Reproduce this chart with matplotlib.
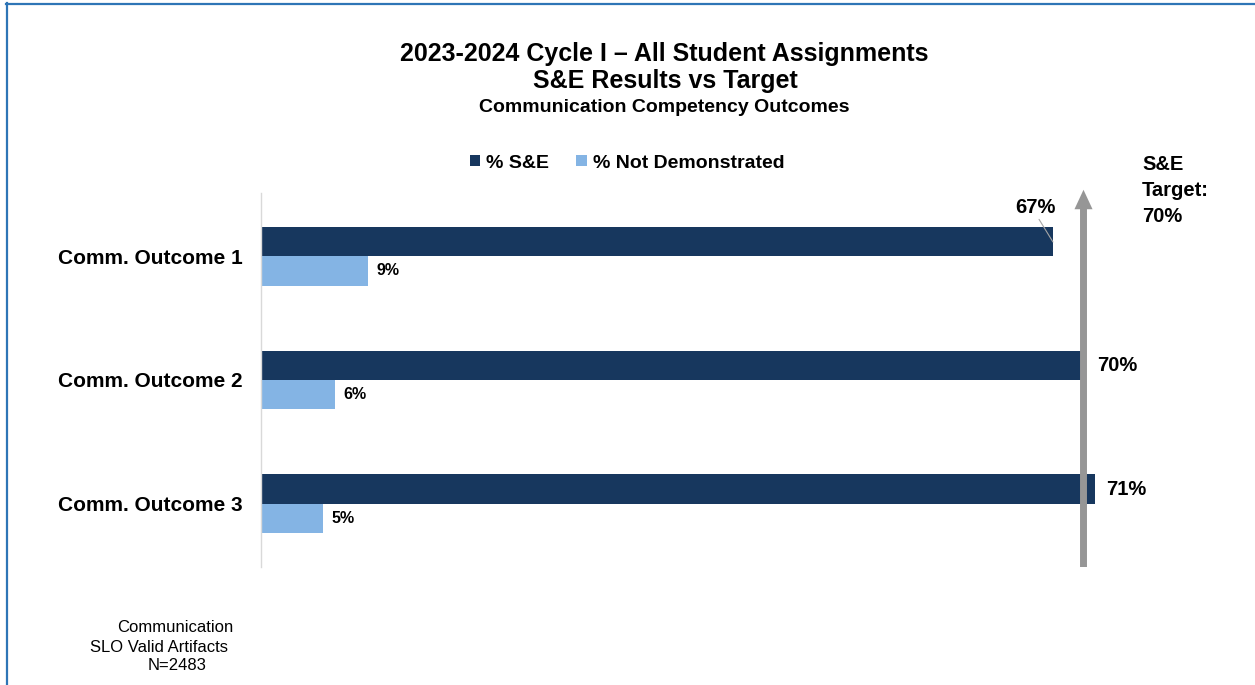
import matplotlib
matplotlib.use("Agg")
import matplotlib.pyplot as plt
from matplotlib.lines import Line2D
from matplotlib.patches import Patch

plt.rcParams['font.family'] = ['Liberation Sans', 'DejaVu Sans']

# ---- data ----
categories = ["Comm. Outcome 1", "Comm. Outcome 2", "Comm. Outcome 3"]
se_values = [67.4, 69.9, 71.0]
nd_values = [9.1, 6.3, 5.3]
se_labels = ["67%", "70%", "71%"]
nd_labels = ["9%", "6%", "5%"]
target = 70
series_names = ["% S&E", "% Not Demonstrated"]
title_lines = ["2023-2024 Cycle I \u2013 All Student Assignments", "S&E Results vs Target",
               "Communication Competency Outcomes"]
target_text = ["S&E", "Target:", "70%"]
note_lines = ["Communication", "SLO Valid Artifacts", "N=2483"]

DARK = "#17375E"
LIGHT = "#84B4E4"
GRAY = "#969696"

W, H = 1255, 685
fig = plt.figure(figsize=(W / 100, H / 100), dpi=100)


def fx(px):
    return px / W


def fy(py):
    return 1 - py / H


# axes placement (pixels): left 261, right 1201, top 193, bottom 567
ax = fig.add_axes([fx(261), fy(567), fx(1201) - fx(261), fy(193) - fy(567)])
ax.set_xlim(0, 80)
ax.set_ylim(2.514, -0.514)

bh = 0.235
ypos = list(range(len(categories)))
ax.barh([y - bh / 2 for y in ypos], se_values, height=bh, color=DARK, zorder=2)
ax.barh([y + bh / 2 for y in ypos], nd_values, height=bh, color=LIGHT, zorder=2)

for s in ["top", "right", "bottom"]:
    ax.spines[s].set_visible(False)
ax.spines["left"].set_color("#d9d9d9")
ax.spines["left"].set_linewidth(1.0)
ax.set_xticks([])
ax.set_yticks(ypos)
ax.set_yticklabels(categories, fontsize=15, fontweight="bold")
ax.tick_params(axis="y", length=0, pad=13)

# target arrow
ax.annotate("", xy=(target, -0.54), xytext=(target, 2.514),
            arrowprops=dict(arrowstyle="simple,head_length=1.4,head_width=1.3,tail_width=0.5",
                            mutation_scale=10, color=GRAY, shrinkA=0, shrinkB=0, lw=0),
            annotation_clip=False, zorder=5)

# value labels
for i, (v, lab) in enumerate(zip(se_values, se_labels)):
    if i == 0:
        ax.annotate(lab, xy=(v, i - bh / 2), xytext=(65.9, -0.40), textcoords="data",
                    fontsize=14.5, fontweight="bold", ha="center", va="center",
                    arrowprops=dict(arrowstyle="-", color="#a6a6a6", lw=0.8,
                                    relpos=(0.55, 0), shrinkA=0, shrinkB=0), zorder=6)
    else:
        xx = max(v, target + 0.25)
        ax.annotate(lab, xy=(xx, i - bh / 2), xytext=(8, 0), textcoords="offset points",
                    fontsize=14.5, fontweight="bold", ha="left", va="center", zorder=6)
for i, (v, lab) in enumerate(zip(nd_values, nd_labels)):
    ax.annotate(lab, xy=(v, i + bh / 2), xytext=(6, 0), textcoords="offset points",
                fontsize=11.5, fontweight="bold", ha="left", va="center", zorder=6)

# titles
fig.text(fx(664), fy(54), title_lines[0], fontsize=18, fontweight="bold", ha="center", va="center")
fig.text(fx(665), fy(81), title_lines[1], fontsize=18, fontweight="bold", ha="center", va="center")
fig.text(fx(664), fy(108), title_lines[2], fontsize=14, fontweight="bold", ha="center", va="center")

# legend
handles = [Patch(facecolor=DARK), Patch(facecolor=LIGHT)]
fig.legend(handles, series_names, loc="center", bbox_to_anchor=(fx(627), fy(163)), ncol=2,
           frameon=False, prop=dict(size=14, weight="bold"), handlelength=0.55, handleheight=0.55,
           handletextpad=0.3, columnspacing=1.4)

# target text
for k, t in enumerate(target_text):
    fig.text(fx(1142), fy(165 + 25.5 * k), t, fontsize=14.5, fontweight="bold", ha="left", va="center")

# bottom note
note_x = [175, 159, 177]
for k, t in enumerate(note_lines):
    fig.text(fx(note_x[k]), fy(628 + 19 * k), t, fontsize=12, ha="center", va="center")

# frame border
fig.add_artist(Line2D([fx(6), 1.0], [fy(4), fy(4)], color="#2E75B6", lw=1.6))
fig.add_artist(Line2D([fx(7), fx(7)], [fy(3), 0.0], color="#2E75B6", lw=1.6))

fig.savefig("out.png", dpi=100)
